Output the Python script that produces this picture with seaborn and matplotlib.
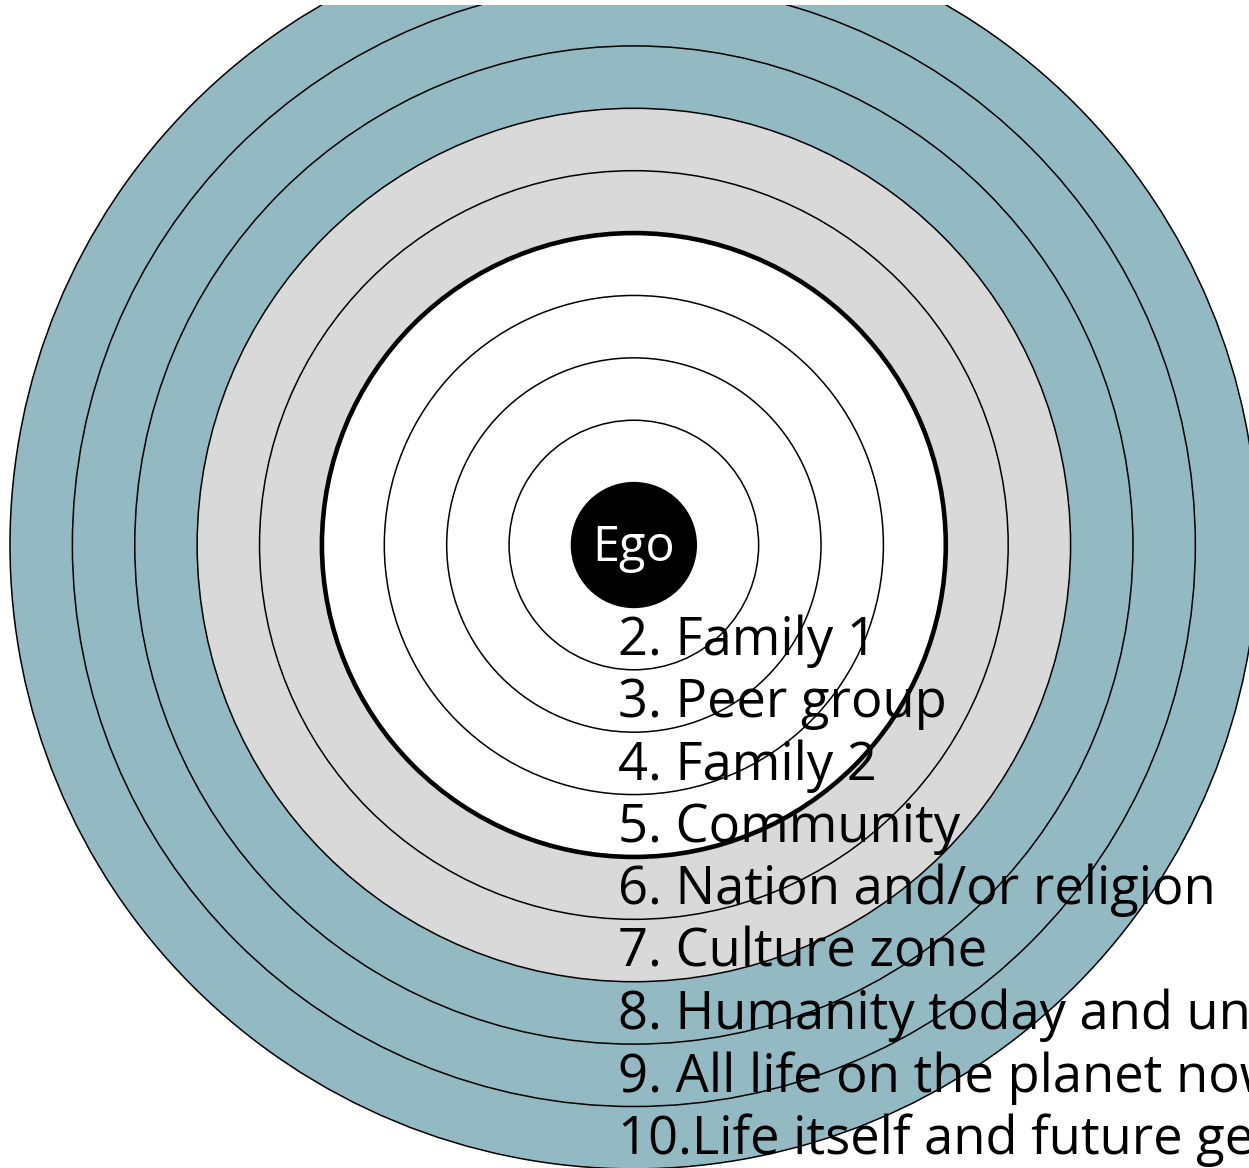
import matplotlib
matplotlib.use("Agg")
import matplotlib.pyplot as plt
from matplotlib.patches import Circle
import seaborn as sns

# circles of identity, ring 1 is Ego, ring 10 the outermost
ring_level = [1, 2, 3, 4, 5, 6, 7, 8, 9, 10]
ring_fill = ["#000000", "#ffffff", "#ffffff", "#ffffff", "#ffffff",
             "#d9d9d9", "#d9d9d9", "#93b9c3", "#93b9c3", "#93b9c3"]
ring_label = [
    "Ego",
    "2. Family 1",
    "3. Peer group",
    "4. Family 2",
    "5. Community",
    "6. Nation and/or religion",
    "7. Culture zone",
    "8. Humanity today and until our death",
    "9. All life on the planet now",
    "10.Life itself and future generations",
]
thick_ring = 5

sns.set_theme(style="white")
plt.rcParams['font.family'] = ['Open Sans', 'DejaVu Sans']

fig = plt.figure(figsize=(12.49, 11.68), dpi=100)
ax = fig.add_axes([0, 0, 1, 1163 / 1168])
ax.set_xlim(-10.16, 9.86)
ax.set_ylim(-9.98, 8.65)
ax.set_aspect('equal')
ax.axis('off')

# outer rings first so the inner ones sit on top
for level, color in sorted(zip(ring_level, ring_fill), reverse=True):
    lw = 3.3 if level == thick_ring else 1.1
    ax.add_patch(Circle((0, 0), level, facecolor=color, edgecolor='black',
                        linewidth=lw, zorder=20 - level))

ax.text(0, -0.05, ring_label[0], color='white', fontsize=35,
        ha='center', va='center', zorder=30)

for level, label in zip(ring_level[1:], ring_label[1:]):
    ax.text(-0.25, -(level - 0.24), label, color='black', fontsize=37.8,
            ha='left', va='baseline', zorder=30)

fig.savefig("out.png", dpi=100)
